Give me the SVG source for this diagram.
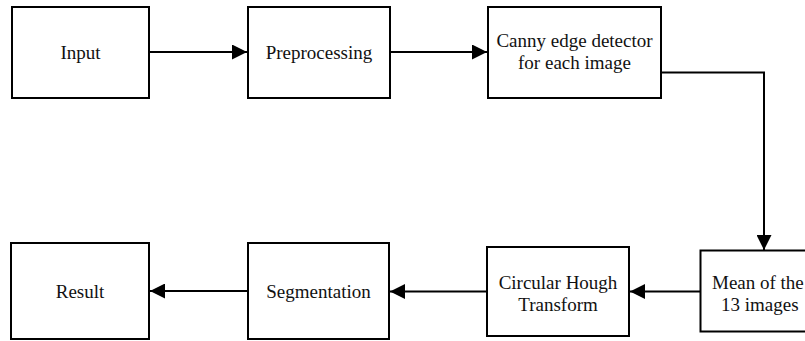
<svg xmlns="http://www.w3.org/2000/svg" width="805" height="341" viewBox="0 0 805 341">
<style>
.box{fill:#fff;stroke:#000;stroke-width:2}
.lbl{font-family:"Liberation Serif","Times New Roman",serif;font-size:19px;fill:#111;text-anchor:middle}
.conn{fill:none;stroke:#000;stroke-width:2}
</style>
<defs>
<marker id="ah" markerUnits="userSpaceOnUse" markerWidth="15" markerHeight="15" viewBox="0 0 15 15" refX="15" refY="7.5" orient="auto">
<path d="M0,0 L15,7.5 L0,15 Z" fill="#000"/>
</marker>
</defs>
<rect width="805" height="341" fill="#fff"/>
<g id="input"><rect class="box" x="12" y="7" width="137" height="91"/><text class="lbl" x="80.5" y="58.5">Input</text></g>
<g id="preprocessing"><rect class="box" x="248" y="7" width="142" height="91"/><text class="lbl" x="319" y="58.5">Preprocessing</text></g>
<g id="canny"><rect class="box" x="488" y="7" width="173" height="91"/><text class="lbl" x="574.5" y="47">Canny edge detector</text><text class="lbl" x="574.5" y="68.5">for each image</text></g>
<g id="mean"><rect class="box" x="700.5" y="250.5" width="143" height="81"/><text class="lbl" x="712" y="288.5" style="text-anchor:start">Mean of the</text><text class="lbl" x="721" y="310.5" style="text-anchor:start">13 images</text></g>
<g id="hough"><rect class="box" x="487" y="247" width="142" height="89"/><text class="lbl" x="558" y="288.5">Circular Hough</text><text class="lbl" x="558" y="310.5">Transform</text></g>
<g id="segmentation"><rect class="box" x="248" y="243" width="141" height="96"/><text class="lbl" x="318.5" y="297.5">Segmentation</text></g>
<g id="result"><rect class="box" x="11" y="243" width="138" height="96"/><text class="lbl" x="80" y="297.5">Result</text></g>
<g id="connectors">
<path class="conn" d="M150,52 H247" marker-end="url(#ah)"/>
<path class="conn" d="M391,52 H487" marker-end="url(#ah)"/>
<path class="conn" d="M662,72.5 H764 V250" marker-end="url(#ah)"/>
<path class="conn" d="M700,291.5 H630" marker-end="url(#ah)"/>
<path class="conn" d="M486,291.5 H390" marker-end="url(#ah)"/>
<path class="conn" d="M247,291 H150" marker-end="url(#ah)"/>
</g>
</svg>
